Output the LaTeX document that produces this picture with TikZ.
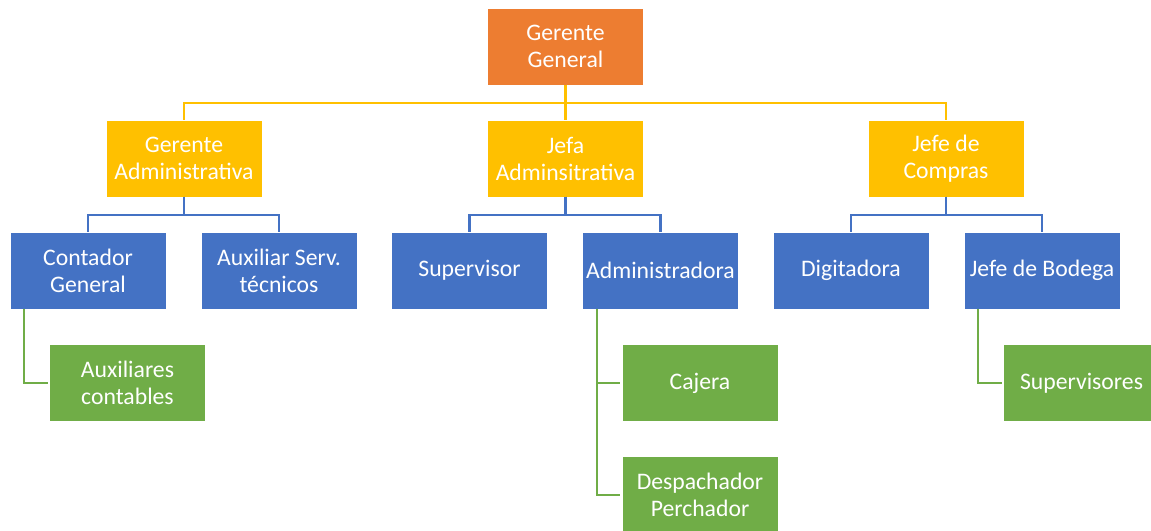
\documentclass[tikz,border=0pt]{standalone}
\usepackage{fontspec}
\setmainfont{Carlito}
\usetikzlibrary{positioning}

\definecolor{cOrange}{HTML}{ED7D31}
\definecolor{cYellow}{HTML}{FFC000}
\definecolor{cBlue}{HTML}{4472C4}
\definecolor{cGreen}{HTML}{70AD47}

\begin{document}
\begin{tikzpicture}[x=1pt, y=-1pt,
    box/.style={minimum width=155pt, minimum height=76pt, inner sep=0pt, text=white, align=center, font=\fontsize{23.7}{27}\selectfont},
    topbox/.style={box, fill=cOrange},
    midbox/.style={box, fill=cYellow},
    lowbox/.style={box, fill=cBlue},
    leafbox/.style={box, fill=cGreen},
    link/.style={line width=2.2pt}]

        \useasboundingbox (0,0) rectangle (1151,530);
        \clip (0,0) rectangle (1151,530);

        % Top level
        \node[topbox] (gg) at (565.5,46.5) {Gerente\\General};

        % Second level
        \node[midbox] (ga) at (184,158.5) {Gerente\\Administrativa};
        \node[midbox] (ja) at (565.5,158.5) {Jefa\\Adminsitrativa};
        \node[midbox] (jc) at (946,158.5) {Jefe de\\Compras};

        % Third level
        \node[lowbox] (cg) at (88,270.5) {Contador\\General};
        \node[lowbox] (as) at (279,270.5) {Auxiliar Serv.\\técnicos};
        \node[lowbox] (sup) at (469.5,270.5) {Supervisor};
        \node[lowbox] (adm) at (660.5,270.5) {Administradora};
        \node[lowbox] (dig) at (851,270.5) {Digitadora};
        \node[lowbox] (jb) at (1042,270.5) {Jefe de Bodega};

        % Fourth level
        \node[leafbox] (ac) at (127.5,383) {Auxiliares\\contables};
        \node[leafbox] (caj) at (700,383) {Cajera};
        \node[leafbox] (des) at (700,495) {Despachador\\Perchador};
        \node[leafbox] (svs) at (1081.5,383) {Supervisores};

        % Connectors
        \foreach \child in {ga,ja,jc} {
            \draw[link, cYellow] (gg.south) -- ++(0,18) -| (\child.north);
        }
        \foreach \parent/\child in {ga/cg, ga/as, ja/sup, ja/adm, jc/dig, jc/jb} {
            \draw[link, cBlue] (\parent.south) -- ++(0,18) -| (\child.north);
        }
        \foreach \parent/\child in {cg/ac, adm/caj, adm/des, jb/svs} {
            \draw[link, cGreen] ([xshift=14pt]\parent.south west) |- ([xshift=-2pt]\child.west);
        }

\end{tikzpicture}
\end{document}
